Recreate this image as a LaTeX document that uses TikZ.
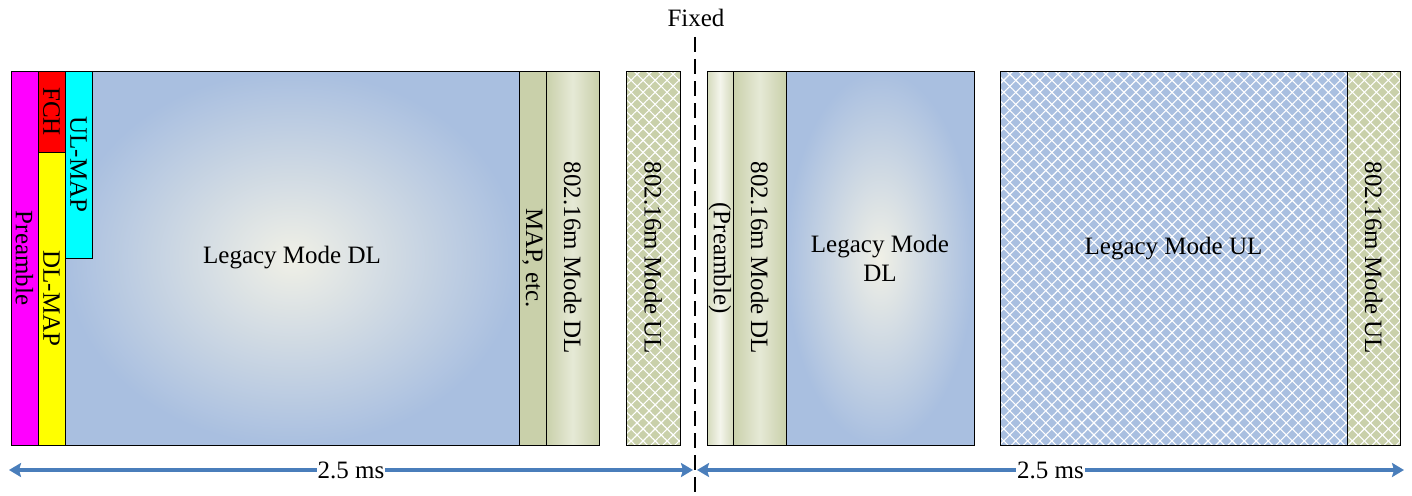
\documentclass[tikz,border=0pt]{standalone}
\usepackage{fontspec}
\setmainfont{Liberation Serif}
\usetikzlibrary{arrows.meta,patterns.meta}
\definecolor{lblue}{RGB}{169,191,224}
\definecolor{lcream}{RGB}{240,240,230}
\definecolor{olive}{RGB}{201,208,170}
\definecolor{oliveL}{RGB}{230,233,214}
\definecolor{oliveXL}{RGB}{244,245,236}
\definecolor{arrowc}{RGB}{74,126,187}
\definecolor{pmag}{RGB}{255,0,255}
\definecolor{pcyan}{RGB}{0,255,255}
\definecolor{pred}{RGB}{255,0,0}
\definecolor{pyel}{RGB}{255,255,0}
\tikzset{
  blk/.style={draw=black, line width=0.9pt, inner sep=0pt, outer sep=0pt, rectangle},
  vtext/.style={rotate=-90, inner sep=0pt, font=\fontsize{25}{29}\selectfont},
  htext/.style={inner sep=0pt, align=center, font=\fontsize{25}{29}\selectfont},
  radialblue/.style={inner color=lcream, outer color=lblue},
  olivegrad/.style={left color=olive, right color=olive, middle color=oliveL},
  paleolive/.style={left color=olive!80!white, right color=olive!80!white, middle color=oliveXL},
  hatch/.style={
    postaction={pattern={Lines[angle=45,distance=8.5pt,line width=1.1pt]}, pattern color=white, fill opacity=0.55},
    postaction={pattern={Lines[angle=-45,distance=8.5pt,line width=1.1pt]}, pattern color=white, fill opacity=0.55},
    postaction={draw=black, line width=0.9pt}},
  span/.style={arrowc, line width=3.5pt, {Stealth[length=12pt,width=14pt,inset=2pt]}-{Stealth[length=12pt,width=14pt,inset=2pt]}},
}
\begin{document}
\begin{tikzpicture}[x=1pt,y=-1pt]
\useasboundingbox (0,0) rectangle (1412,495);
% left DL subframe
\node[blk, fill=pmag, minimum width=27, minimum height=374] (pre) at (24.5,258) {};
\node[blk, fill=pred, minimum width=27, minimum height=81] (fch) at (51.5,111.5) {};
\node[blk, fill=pyel, minimum width=27, minimum height=293] (dlmap) at (51.5,298.5) {};
\node[blk, radialblue, minimum width=454, minimum height=374] (leg1) at (292,258) {};
\node[blk, fill=pcyan, minimum width=27, minimum height=187] (ulmap) at (78.5,164.5) {};
\node[blk, fill=olive, minimum width=27, minimum height=374] (map) at (532.5,258) {};
\node[blk, olivegrad, minimum width=53, minimum height=374] (m1dl) at (572.5,258) {};
\node[blk, fill=olive, hatch, minimum width=54, minimum height=374] (m1ul) at (653,258) {};
% right subframe
\node[blk, paleolive, minimum width=26, minimum height=374] (pre2) at (720,258) {};
\node[blk, olivegrad, minimum width=53, minimum height=374] (m2dl) at (759.5,258) {};
\node[blk, radialblue, minimum width=188, minimum height=374] (leg2) at (880,258) {};
\node[blk, fill=lblue, hatch, minimum width=347, minimum height=374] (leg2ul) at (1173.5,258) {};
\node[blk, fill=olive, hatch, minimum width=53, minimum height=374] (m2ul) at (1373.5,258) {};
% labels
\node[vtext] at (pre.center) {Preamble};
\node[vtext] at (fch.center) {FCH};
\node[vtext] at (dlmap.center) {DL-MAP};
\node[vtext] at (ulmap.center) {UL-MAP};
\node[htext] at (leg1.center) {Legacy Mode DL};
\node[vtext] at (map.center) {MAP, etc.};
\node[vtext] at (m1dl.center) {802.16m Mode DL};
\node[vtext] at (m1ul.center) {802.16m Mode UL};
\node[vtext] at (pre2.center) {(Preamble)};
\node[vtext] at (m2dl.center) {802.16m Mode DL};
\node[htext] at (leg2.center) {Legacy Mode\\DL};
\node[htext] at (1173.5,249) {Legacy Mode UL};
\node[vtext] at (m2ul.center) {802.16m Mode UL};
% fixed boundary
\node[htext] (fixed) at (696,18) {Fixed};
\coordinate (ftop) at (695,37);
\coordinate (fbot) at (695,495);
\draw[black, line width=2pt, dash pattern=on 15pt off 7pt] (ftop) -- (fbot);
% spans
\coordinate (a1) at (9,470);
\coordinate (a2) at (693,470);
\coordinate (a3) at (697,470);
\coordinate (a4) at (1404,470);
\draw[span] (a1) -- node[fill=white, inner sep=1pt, text=black, font=\fontsize{25}{29}\selectfont] {2.5 ms} (a2);
\draw[span] (a3) -- node[fill=white, inner sep=1pt, text=black, font=\fontsize{25}{29}\selectfont] {2.5 ms} (a4);
\end{tikzpicture}
\end{document}
